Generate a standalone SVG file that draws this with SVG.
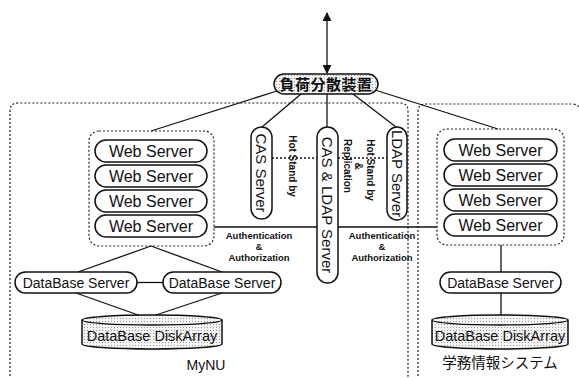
<svg xmlns="http://www.w3.org/2000/svg" width="579" height="378" viewBox="0 0 579 378">
<style>
.bg{fill:#fff}
.dot{fill:none;stroke:#222;stroke-width:1.2;stroke-dasharray:2 2}
.pill{fill:#fff;stroke:#111;stroke-width:1.5}
.st{fill:url(#stip);stroke:#111;stroke-width:1.5}
.ln{stroke:#111;stroke-width:1.3;fill:none}
.dl{stroke:#111;stroke-width:1.6;fill:none;stroke-dasharray:2 2}
.t{font-family:"Liberation Sans",Arial,sans-serif;fill:#111;text-anchor:middle}
.ws{font-size:16px}
.db{font-size:14px}
.da{font-size:14.5px}
.vt{font-size:15px}
.sm{font-size:9.5px;font-weight:bold}
.hs{font-size:10px;font-weight:bold}
.jp{font-family:"Noto Sans CJK JP","Noto Sans CJK SC",sans-serif;fill:#111;text-anchor:middle}
</style>
<defs>
<pattern id="stip" width="3" height="3" patternUnits="userSpaceOnUse">
<rect width="3" height="3" fill="#f4f4f4"/>
<rect x="0" y="0" width="1" height="1" fill="#999"/>
</pattern>
<marker id="ah" viewBox="0 0 10 10" refX="9" refY="5" markerWidth="9" markerHeight="9" markerUnits="userSpaceOnUse" orient="auto-start-reverse">
<path d="M0,0 L10,5 L0,10 Z" fill="#111"/>
</marker>
</defs>
<rect class="bg" width="579" height="378"/>

<g id="regions">
<path class="dot" d="M10,380 V111 Q10,103 18,103 H400 Q408,103 408,111 V380"/>
<path class="dot" d="M418,380 V112 Q418,104 426,104 H572 Q580,104 580,112 V380"/>
</g>

<g id="connectors">
<line class="ln" x1="327" y1="13" x2="327" y2="73" marker-start="url(#ah)" marker-end="url(#ah)"/>
<line class="ln" x1="277" y1="91" x2="151" y2="131"/>
<line class="ln" x1="301" y1="94" x2="262" y2="127"/>
<line class="ln" x1="327" y1="94" x2="327" y2="127"/>
<line class="ln" x1="353" y1="94" x2="396" y2="127"/>
<line class="ln" x1="375" y1="90" x2="498" y2="129"/>
<line class="dl" x1="272" y1="158" x2="317" y2="158"/>
<line class="dl" x1="338" y1="158" x2="387" y2="158"/>
<line class="ln" x1="214" y1="227" x2="317" y2="227"/>
<line class="ln" x1="338" y1="227" x2="437" y2="227"/>
<line class="ln" x1="151" y1="246" x2="78" y2="272"/>
<line class="ln" x1="151" y1="246" x2="222" y2="272"/>
<line class="ln" x1="137" y1="282.5" x2="163" y2="282.5"/>
<line class="ln" x1="76" y1="293" x2="141" y2="316"/>
<line class="ln" x1="222" y1="293" x2="153" y2="316"/>
<line class="ln" x1="501" y1="245" x2="501" y2="272"/>
<line class="ln" x1="501" y1="293" x2="501" y2="315"/>
</g>

<g id="load-balancer">
<rect class="st" x="274" y="74" width="104" height="20" rx="10"/>
<text class="jp" x="326" y="90" font-size="15" font-weight="bold" letter-spacing="0.5">負荷分散装置</text>
</g>

<g id="mynu-web-servers">
<rect class="dot" x="89" y="131" width="125" height="115" rx="10"/>
<rect class="pill" x="95" y="140" width="112" height="22" rx="11"/>
<text class="t ws" x="151" y="157">Web Server</text>
<rect class="pill" x="95" y="165" width="112" height="22" rx="11"/>
<text class="t ws" x="151" y="182">Web Server</text>
<rect class="pill" x="95" y="190" width="112" height="22" rx="11"/>
<text class="t ws" x="151" y="207">Web Server</text>
<rect class="pill" x="95" y="215" width="112" height="22" rx="11"/>
<text class="t ws" x="151" y="232">Web Server</text>
</g>

<g id="cas-server">
<rect class="pill" x="251" y="127" width="21" height="92" rx="10.5"/>
<text class="t vt" transform="translate(261.5,173) rotate(90)" dy="0.36em">CAS Server</text>
</g>

<g id="cas-ldap-server">
<rect class="pill" x="317" y="127" width="21" height="156" rx="10.5"/>
<text class="t vt" transform="translate(327.5,205) rotate(90)" dy="0.36em">CAS &amp; LDAP Server</text>
</g>

<g id="ldap-server">
<rect class="pill" x="387" y="127" width="20" height="93" rx="10"/>
<text class="t vt" transform="translate(397,173.5) rotate(90)" dy="0.36em">LDAP Server</text>
</g>

<g id="labels">
<text class="t hs" transform="translate(292,166) rotate(90)" dy="0.35em">Hot Stand by</text>
<text class="t hs" transform="translate(370,170) rotate(90)" dy="0.35em">Hot Stand by</text>
<text class="t hs" transform="translate(358.5,166) rotate(90)" dy="0.35em">&amp;</text>
<text class="t hs" transform="translate(347,166) rotate(90)" dy="0.35em">Replication</text>
<text class="t sm" x="259" y="239">Authentication</text>
<text class="t sm" x="259" y="250">&amp;</text>
<text class="t sm" x="259" y="261">Authorization</text>
<text class="t sm" x="382" y="239">Authentication</text>
<text class="t sm" x="382" y="250">&amp;</text>
<text class="t sm" x="382" y="261">Authorization</text>
</g>

<g id="mynu-db-server-1">
<rect class="pill" x="15" y="272" width="122" height="21" rx="10.5"/>
<text class="t db" x="76" y="288">DataBase Server</text>
</g>

<g id="mynu-db-server-2">
<rect class="pill" x="163" y="272" width="118" height="21" rx="10.5"/>
<text class="t db" x="222" y="288">DataBase Server</text>
</g>

<g id="mynu-diskarray">
<path class="st" d="M82,320 A70,5 0 0 1 222,320 V344 A70,5 0 0 1 82,344 Z"/>
<path class="ln" d="M82,320 A70,5 0 0 0 222,320" stroke-width="1.5"/>
<text class="t da" x="152" y="341">DataBase DiskArray</text>
</g>

<g id="gakumu-web-servers">
<rect class="dot" x="437" y="129" width="127" height="116" rx="10"/>
<rect class="pill" x="444" y="139" width="113" height="22" rx="11"/>
<text class="t ws" x="500.5" y="156">Web Server</text>
<rect class="pill" x="444" y="164" width="113" height="22" rx="11"/>
<text class="t ws" x="500.5" y="181">Web Server</text>
<rect class="pill" x="444" y="189" width="113" height="22" rx="11"/>
<text class="t ws" x="500.5" y="206">Web Server</text>
<rect class="pill" x="444" y="214" width="113" height="22" rx="11"/>
<text class="t ws" x="500.5" y="231">Web Server</text>
</g>

<g id="gakumu-db-server">
<rect class="pill" x="440" y="272" width="121" height="21" rx="10.5"/>
<text class="t db" x="500.5" y="288">DataBase Server</text>
</g>

<g id="gakumu-diskarray">
<path class="st" d="M432,320 A68,5 0 0 1 568,320 V344 A68,5 0 0 1 432,344 Z"/>
<path class="ln" d="M432,320 A68,5 0 0 0 568,320" stroke-width="1.5"/>
<text class="t da" x="500" y="341">DataBase DiskArray</text>
</g>

<g id="region-labels">
<text class="t" x="206" y="370" font-size="14">MyNU</text>
<text class="jp" x="500" y="368" font-size="14.5">学務情報システム</text>
</g>
</svg>
